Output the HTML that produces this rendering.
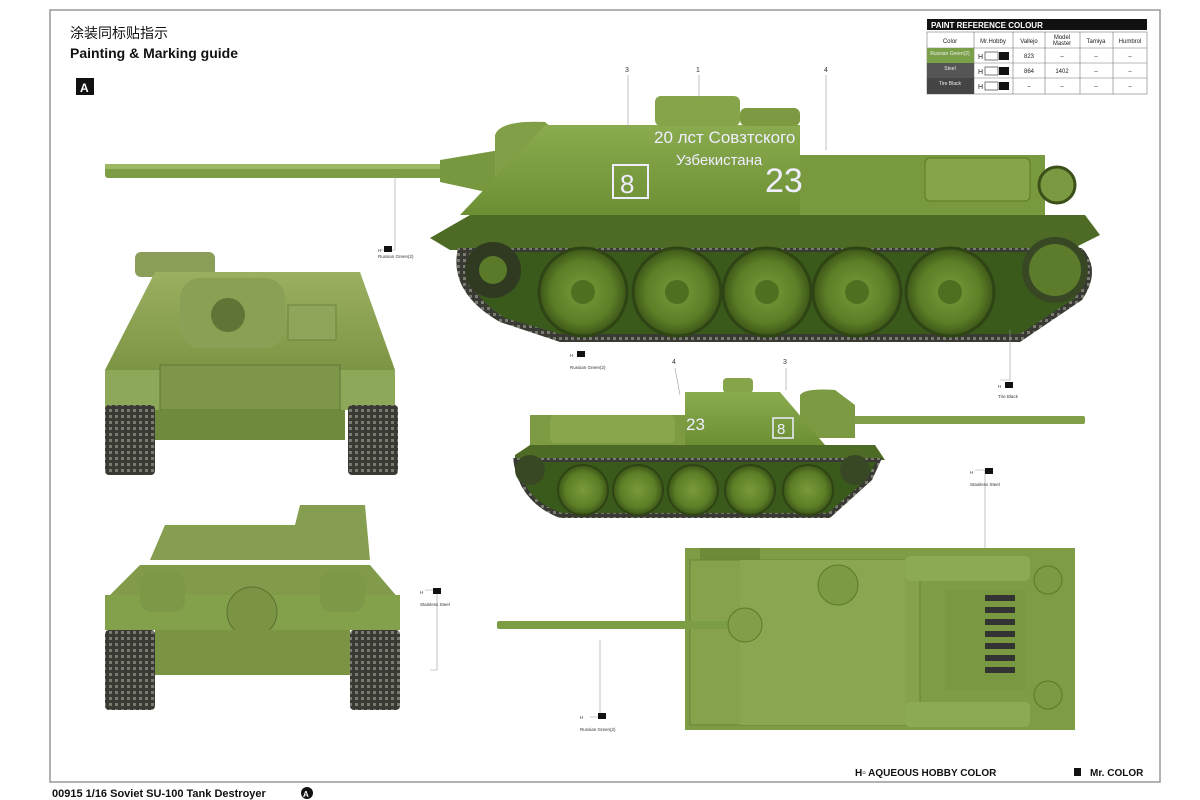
<!DOCTYPE html>
<html><head><meta charset="utf-8"><style>
body{margin:0;background:#fff;width:1200px;height:800px;overflow:hidden;font-family:"Liberation Sans","Noto Sans CJK SC",sans-serif}
svg{position:absolute;left:0;top:0}
</style></head><body>
<svg width="1200" height="800" viewBox="0 0 1200 800" xmlns="http://www.w3.org/2000/svg" font-family="Liberation Sans, Noto Sans CJK SC, sans-serif">
<defs>
<radialGradient id="wh" cx="50%" cy="50%" r="50%"><stop offset="0" stop-color="#7a9a3a"/><stop offset="0.7" stop-color="#5c7e26"/><stop offset="1" stop-color="#3c5618"/></radialGradient>
<linearGradient id="hull" x1="0" y1="0" x2="0" y2="1"><stop offset="0" stop-color="#8aab4e"/><stop offset="1" stop-color="#6d8f34"/></linearGradient>
<linearGradient id="fv" x1="0" y1="0" x2="0" y2="1"><stop offset="0" stop-color="#9bb061"/><stop offset="1" stop-color="#7c9544"/></linearGradient>
<pattern id="trk" width="6" height="6" patternUnits="userSpaceOnUse"><rect width="6" height="6" fill="#3a3a34"/><rect x="1" y="1" width="3" height="3" fill="#7a7a70"/></pattern>
</defs>
<rect x="50" y="10" width="1110" height="772" fill="#fff" stroke="#999" stroke-width="1.5"/>
<text x="70" y="38" font-size="14" fill="#111">涂装同标贴指示</text>
<text x="70" y="58" font-size="14" font-weight="bold" fill="#111">Painting &amp; Marking guide</text>
<rect x="76" y="78" width="18" height="17" fill="#111"/><text x="80" y="92" font-size="12" font-weight="bold" fill="#fff">A</text>

<!-- paint table -->
<rect x="927" y="19" width="220" height="11" fill="#111"/>
<text x="931" y="28" font-size="8" font-weight="bold" fill="#fff">PAINT REFERENCE COLOUR</text>
<g stroke="#777" stroke-width="0.6" fill="none">
<rect x="927" y="32" width="220" height="62"/>
<line x1="927" y1="48" x2="1147" y2="48"/><line x1="927" y1="63" x2="1147" y2="63"/><line x1="927" y1="78" x2="1147" y2="78"/>
<line x1="974" y1="32" x2="974" y2="94"/><line x1="1013" y1="32" x2="1013" y2="94"/><line x1="1045" y1="32" x2="1045" y2="94"/><line x1="1080" y1="32" x2="1080" y2="94"/><line x1="1113" y1="32" x2="1113" y2="94"/>
</g>
<rect x="927" y="48" width="47" height="15" fill="#7aa04a"/><rect x="927" y="63" width="47" height="15" fill="#555"/><rect x="927" y="78" width="47" height="16" fill="#444"/>
<g font-size="6" fill="#222" text-anchor="middle">
<text x="950" y="43">Color</text><text x="993" y="43">Mr.Hobby</text><text x="1029" y="43">Vallejo</text><text x="1062" y="39">Model</text><text x="1062" y="45">Master</text><text x="1096" y="43">Tamiya</text><text x="1130" y="43">Humbrol</text>
<text x="1029" y="58">823</text><text x="1062" y="58">–</text><text x="1096" y="58">–</text><text x="1130" y="58">–</text>
<text x="1029" y="73">864</text><text x="1062" y="73">1402</text><text x="1096" y="73">–</text><text x="1130" y="73">–</text>
<text x="1029" y="88">–</text><text x="1062" y="88">–</text><text x="1096" y="88">–</text><text x="1130" y="88">–</text>
<text x="950" y="55" fill="#eee" font-size="5">Russian Green(2)</text><text x="950" y="70" fill="#eee" font-size="5">Steel</text><text x="950" y="85" fill="#eee" font-size="5">Tire Black</text>
</g>
<g font-size="7" fill="#222"><text x="978" y="59">H</text><rect x="985" y="52" width="13" height="8" fill="none" stroke="#222" stroke-width="0.6"/><rect x="999" y="52" width="10" height="8" fill="#111"/>
<text x="978" y="74">H</text><rect x="985" y="67" width="13" height="8" fill="none" stroke="#222" stroke-width="0.6"/><rect x="999" y="67" width="10" height="8" fill="#111"/>
<text x="978" y="89">H</text><rect x="985" y="82" width="13" height="8" fill="none" stroke="#222" stroke-width="0.6"/><rect x="999" y="82" width="10" height="8" fill="#111"/></g>

<!-- ========== big side view ========== -->
<g>
<rect x="105" y="164" width="340" height="14" rx="3" fill="#7d9d44"/>
<rect x="105" y="164" width="340" height="5" fill="#9cb862"/>
<path d="M440 160 L500 150 L500 195 L440 182 Z" fill="#78983f"/>
<path d="M495 135 Q500 120 545 122 L560 135 L560 215 L495 210 Z" fill="#819f46"/>
<path d="M545 125 L800 125 L800 215 L460 215 Z" fill="url(#hull)"/>
<rect x="655" y="96" width="85" height="30" rx="6" fill="#86a449"/>
<rect x="740" y="108" width="60" height="18" rx="6" fill="#7d9a42"/>
<rect x="800" y="155" width="245" height="60" fill="#79993f"/>
<rect x="925" y="158" width="105" height="43" rx="5" fill="#86a449" stroke="#5a7a28"/>
<circle cx="1057" cy="185" r="18" fill="#7a9940" stroke="#3a5018" stroke-width="3"/>
<path d="M430 238 L470 215 L1085 215 L1100 235 L1070 250 L450 250 Z" fill="#4d6b24"/>
<path d="M458 248 Q448 292 500 322 L560 342 L1020 342 L1082 300 Q1102 270 1082 248 Z" fill="url(#trk)"/>
<path d="M470 252 Q460 290 505 318 L560 334 L1020 334 L1075 298 Q1092 270 1076 252 Z" fill="#3a5a1c"/>
<circle cx="493" cy="270" r="28" fill="#2f3a20"/><circle cx="493" cy="270" r="14" fill="#5a7a2a"/>
<circle cx="1055" cy="270" r="33" fill="#384824"/><circle cx="1055" cy="270" r="26" fill="#5c7c2c"/>
<g fill="url(#wh)" stroke="#2f4414" stroke-width="3">
<circle cx="583" cy="292" r="44"/><circle cx="677" cy="292" r="44"/><circle cx="767" cy="292" r="44"/><circle cx="857" cy="292" r="44"/><circle cx="950" cy="292" r="44"/></g>
<g fill="#4e6e20"><circle cx="583" cy="292" r="12"/><circle cx="677" cy="292" r="12"/><circle cx="767" cy="292" r="12"/><circle cx="857" cy="292" r="12"/><circle cx="950" cy="292" r="12"/></g>
<g fill="#eef" font-size="20" font-family="Liberation Sans, DejaVu Sans, sans-serif">
<text x="654" y="143" font-size="17">20 лст Совзтского</text>
<text x="676" y="165" font-size="15">Узбекистана</text>
<text x="765" y="192" font-size="34">23</text></g>
<rect x="613" y="165" width="35" height="33" fill="none" stroke="#eef" stroke-width="2"/>
<text x="620" y="193" font-size="26" fill="#eef">8</text>
</g>

<!-- callout numbers -->
<g font-size="7" fill="#333"><text x="625" y="72">3</text><text x="696" y="72">1</text><text x="824" y="72">4</text><text x="672" y="364">4</text><text x="783" y="364">3</text></g>
<g stroke="#999" stroke-width="0.6" fill="none">
<line x1="628" y1="75" x2="628" y2="128"/><line x1="699" y1="75" x2="699" y2="98"/><line x1="826" y1="75" x2="826" y2="150"/>
<polyline points="395,175 395,250 380,250"/>
<polyline points="1010,330 1010,380 1000,380"/>
<polyline points="975,470 985,470 985,560"/>
<polyline points="425,590 437,590 437,670 430,670"/>
<polyline points="590,717 600,717 600,640"/>
<line x1="675" y1="368" x2="680" y2="395"/><line x1="786" y1="368" x2="786" y2="390"/>
</g>
<g font-size="4.5" fill="#333">
<text x="378" y="252">H</text><rect x="384" y="246" width="8" height="6" fill="#111"/><text x="378" y="258">Russian Green(2)</text>
<text x="570" y="357">H</text><rect x="577" y="351" width="8" height="6" fill="#111"/><text x="570" y="369">Russian Green(2)</text>
<text x="998" y="388">H</text><rect x="1005" y="382" width="8" height="6" fill="#111"/><text x="998" y="398">Tire Black</text>
<text x="970" y="474">H</text><rect x="985" y="468" width="8" height="6" fill="#111"/><text x="970" y="486">Stainless Steel</text>
<text x="420" y="594">H</text><rect x="433" y="588" width="8" height="6" fill="#111"/><text x="420" y="606">Stainless Steel</text>
<text x="580" y="719">H</text><rect x="598" y="713" width="8" height="6" fill="#111"/><text x="580" y="731">Russian Green(2)</text>
</g>

<!-- ========== front view ========== -->
<g>
<rect x="135" y="252" width="80" height="25" rx="6" fill="#8a9e5a"/>
<path d="M155 272 L360 272 L395 370 L105 370 Z" fill="url(#fv)"/>
<rect x="180" y="278" width="105" height="70" rx="20" fill="#8aa055"/>
<circle cx="228" cy="315" r="17" fill="#5f7435"/>
<rect x="288" y="305" width="48" height="35" fill="#8ea65a" stroke="#6c8240"/>
<rect x="105" y="370" width="290" height="40" fill="#8ea85a"/>
<rect x="160" y="365" width="180" height="45" fill="#7e9648" stroke="#5f7535"/>
<rect x="155" y="410" width="190" height="30" fill="#6f8a3c"/>
<rect x="105" y="405" width="50" height="70" rx="4" fill="url(#trk)"/>
<rect x="348" y="405" width="50" height="70" rx="4" fill="url(#trk)"/>
</g>

<!-- ========== rear view ========== -->
<g>
<path d="M150 560 L165 525 L295 525 L300 505 L365 505 L370 560 Z" fill="#869e50"/>
<path d="M105 600 L140 565 L370 565 L400 600 Z" fill="#819b4a"/>
<rect x="105" y="595" width="295" height="35" fill="#83a04b"/>
<rect x="140" y="572" width="45" height="40" rx="12" fill="#7d9846"/>
<rect x="320" y="572" width="45" height="40" rx="12" fill="#7d9846"/>
<circle cx="252" cy="612" r="25" fill="#7a9443" stroke="#5a7030"/>
<rect x="155" y="630" width="195" height="45" fill="#7b9444"/>
<rect x="105" y="630" width="50" height="80" rx="4" fill="url(#trk)"/>
<rect x="350" y="630" width="50" height="80" rx="4" fill="url(#trk)"/>
</g>

<!-- ========== small side view ========== -->
<g>
<rect x="850" y="416" width="235" height="8" rx="2" fill="#819f46"/>
<path d="M800 395 Q805 388 835 390 L855 405 L855 438 L800 438 Z" fill="#7b9a42"/>
<rect x="723" y="378" width="30" height="15" rx="4" fill="#86a449"/>
<path d="M685 392 L780 392 L825 445 L685 445 Z" fill="url(#hull)"/>
<rect x="530" y="415" width="155" height="30" fill="#7c9b42"/>
<rect x="550" y="415" width="125" height="28" rx="5" fill="#8aa64d"/>
<text x="686" y="430" font-size="17" fill="#eef">23</text>
<rect x="773" y="418" width="20" height="20" fill="none" stroke="#eef" stroke-width="1.5"/><text x="777" y="434" font-size="15" fill="#eef">8</text>
<path d="M515 455 L530 445 L875 445 L885 460 L515 462 Z" fill="#4d6b24"/>
<path d="M513 458 Q518 502 560 518 L830 518 L872 480 L882 458 Z" fill="url(#trk)"/>
<path d="M518 462 Q523 500 562 513 L828 513 L866 480 L876 462 Z" fill="#3a5a1c"/>
<circle cx="530" cy="470" r="15" fill="#384824"/><circle cx="855" cy="470" r="15" fill="#384824"/>
<g fill="url(#wh)" stroke="#2f4414" stroke-width="2">
<circle cx="583" cy="490" r="25"/><circle cx="638" cy="490" r="25"/><circle cx="693" cy="490" r="25"/><circle cx="750" cy="490" r="25"/><circle cx="808" cy="490" r="25"/></g>
</g>

<!-- ========== top view ========== -->
<g>
<rect x="685" y="548" width="390" height="182" fill="#7d9c44"/>
<rect x="700" y="548" width="60" height="20" fill="#6c8a38"/>
<rect x="690" y="560" width="230" height="165" fill="#86a34c" stroke="#66843a"/>
<path d="M740 560 L905 560 L905 725 L740 725 Z" fill="#8aa650"/>
<rect x="905" y="556" width="125" height="25" rx="5" fill="#8caa52"/>
<rect x="905" y="702" width="125" height="25" rx="5" fill="#8caa52"/>
<rect x="945" y="590" width="80" height="100" fill="#7a9842"/>
<g fill="#333"><rect x="985" y="595" width="30" height="6"/><rect x="985" y="607" width="30" height="6"/><rect x="985" y="619" width="30" height="6"/><rect x="985" y="631" width="30" height="6"/><rect x="985" y="643" width="30" height="6"/><rect x="985" y="655" width="30" height="6"/><rect x="985" y="667" width="30" height="6"/></g>
<circle cx="838" cy="585" r="20" fill="#7b9a42" stroke="#5a7a2a"/>
<circle cx="1048" cy="580" r="14" fill="#7b9a42" stroke="#5a7a2a"/>
<circle cx="1048" cy="695" r="14" fill="#7b9a42" stroke="#5a7a2a"/>
<rect x="497" y="621" width="240" height="8" rx="2" fill="#7d9d44"/>
<circle cx="745" cy="625" r="17" fill="#829f48" stroke="#5a7a2a"/>
</g>

<!-- footer -->
<text x="855" y="776" font-size="10" font-weight="bold" fill="#111">H▫ AQUEOUS HOBBY COLOR</text>
<rect x="1074" y="768" width="7" height="8" fill="#111"/>
<text x="1090" y="776" font-size="10" font-weight="bold" fill="#111">Mr. COLOR</text>
<text x="52" y="797" font-size="11" font-weight="bold" fill="#111">00915  1/16  Soviet SU-100 Tank Destroyer</text>
<circle cx="307" cy="793" r="6" fill="#111"/><text x="303" y="797" font-size="8" font-weight="bold" fill="#fff">A</text>
</svg>
</body></html>
